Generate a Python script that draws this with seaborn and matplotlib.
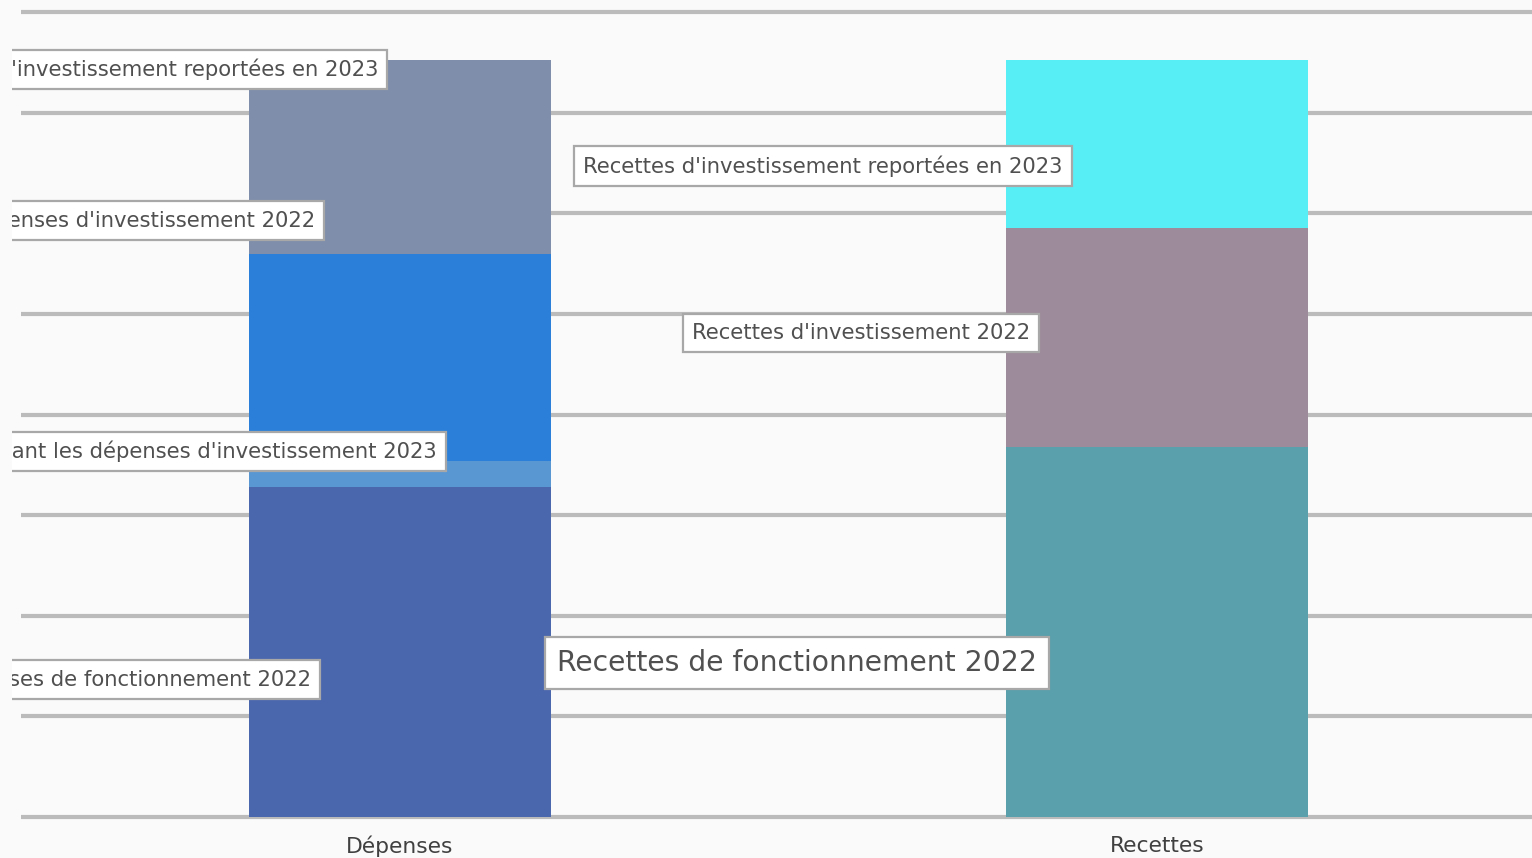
import matplotlib
matplotlib.use("Agg")
import matplotlib.pyplot as plt
import numpy as np
import seaborn as sns

sns.set_style("white")
plt.rcParams["font.family"] = ["DejaVu Sans"]

# Data (one grid step = 1 unit)
categories = ["Dépenses", "Recettes"]

depenses_labels = [
    "Dépenses de fonctionnement 2022",
    "Excédent de fonctionnement finançant les dépenses d'investissement 2023",
    "Dépenses d'investissement 2022",
    "Dépenses d'investissement reportées en 2023",
]
depenses_values = [3.28, 0.26, 2.06, 1.92]
depenses_colors = ["#4a66ad", "#5997d3", "#2b7fd8", "#7f8eab"]

recettes_labels = [
    "Recettes de fonctionnement 2022",
    "Recettes d'investissement 2022",
    "Recettes d'investissement reportées en 2023",
]
recettes_values = [3.68, 2.17, 1.67]
recettes_colors = ["#59a0ac", "#9d8b9b", "#58eef5"]

grid_ticks = np.arange(0, 9)

# label placement (x anchor, y centre, font size)
dep_label_x = [-0.118, 0.049, -0.112, -0.029]
dep_label_y = [1.37, 3.63, 5.93, 7.43]
rec_label_x = [0.207, 0.386, 0.242]
rec_label_y = [1.53, 4.81, 6.47]
rec_label_size = [20.3, 15.2, 15.2]

fig = plt.figure(figsize=(15.32, 8.58), dpi=100)
fig.patch.set_facecolor("#fafafa")
ax = fig.add_axes([12 / 1532, 36 / 858, 1520 / 1532, 822 / 858])
ax.set_facecolor("#fafafa")

# stacked bars: draw cumulative totals, tallest first
for cat, vals, cols in [("Dépenses", depenses_values, depenses_colors),
                        ("Recettes", recettes_values, recettes_colors)]:
    cum = np.cumsum(vals)
    for top, col in zip(cum[::-1], cols[::-1]):
        sns.barplot(x=[cat], y=[top], order=categories, color=col,
                    saturation=1, width=0.4, ax=ax, zorder=2,
                    edgecolor="none", linewidth=0)

ax.hlines(grid_ticks, -0.5, 1.5, color="#bbbbbb", lw=3, zorder=1)

box = dict(boxstyle="square,pad=0.42", fc="white", ec="#a8a8a8", lw=1.6)
for lab, x, y in zip(depenses_labels, dep_label_x, dep_label_y):
    ax.text(x, y, lab, ha="right", va="center", fontsize=15.2, color="#505050",
            bbox=box, zorder=5, clip_on=True)
for lab, x, y, fs in zip(recettes_labels, rec_label_x, rec_label_y, rec_label_size):
    ax.text(x, y, lab, ha="left", va="center", fontsize=fs, color="#505050",
            bbox=box, zorder=5, clip_on=True)

ax.set_xlim(-0.5125, 1.4954)
ax.set_ylim(-0.05, 8.12)
ax.set_xlabel("")
ax.set_ylabel("")
ax.set_yticks([])
ax.tick_params(axis="x", length=0, labelsize=15.7, labelcolor="#404040", pad=10)
sns.despine(ax=ax, left=True, bottom=True)

fig.savefig("out.png", dpi=100, facecolor=fig.get_facecolor())
